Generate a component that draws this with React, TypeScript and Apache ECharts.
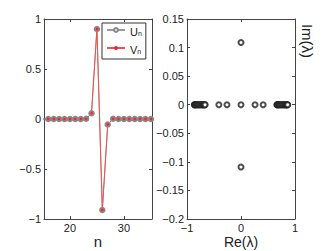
import React, { useEffect, useRef } from "react";
import * as echarts from "echarts";

const nValues = [10, 11, 12, 13, 14, 15, 16, 17, 18, 19, 20, 21, 22, 23, 24, 25, 26, 27, 28, 29, 30, 31, 32, 33, 34, 35, 36, 37, 38, 39, 40];
const uValues = [0, 0, 0, 0, 0, 0, 0, 0, 0, 0, 0, 0, 0, 0.002, 0.057, 0.9, -0.91, -0.055, 0.002, 0, 0, 0, 0, 0, 0, 0, 0, 0, 0, 0, 0];
const vValues = [0, 0, 0, 0, 0, 0, 0, 0, 0, 0, 0, 0, 0, 0.002, 0.057, 0.9, -0.91, -0.055, 0.002, 0, 0, 0, 0, 0, 0, 0, 0, 0, 0, 0, 0];
const leftXTicks = [20, 30];

const bandLeftRe = [-0.865, -0.86, -0.852, -0.843, -0.832, -0.82, -0.806, -0.791, -0.775, -0.759, -0.743, -0.727, -0.712, -0.698, -0.686, -0.676, -0.669, -0.665];
const bandRightRe = [0.665, 0.669, 0.676, 0.686, 0.698, 0.712, 0.727, 0.743, 0.759, 0.775, 0.791, 0.806, 0.82, 0.832, 0.843, 0.852, 0.86, 0.865];
const isolatedRe = [-0.41, -0.26, 0, 0.26, 0.41, 0, 0];
const isolatedIm = [0, 0, 0, 0, 0, 0.109, -0.109];

const FONT = "Liberation Sans, Arial, Helvetica, sans-serif";
const TXT = "#222";
const AX = "#444";

const fmt = (v: number) => String(Number(v.toFixed(4))).replace("-", "\u2212");

export default function App() {
  const ref = useRef<HTMLDivElement>(null);
  useEffect(() => {
    if (!ref.current) return;
    const chart = echarts.init(ref.current, undefined, { renderer: "svg" });

    const uData = nValues.map((n, i) => [n, uValues[i]]);
    const vData = nValues.map((n, i) => [n, vValues[i]]);
    const eigData: number[][] = [];
    bandLeftRe.forEach((r) => eigData.push([r, 0]));
    bandRightRe.forEach((r) => eigData.push([r, 0]));
    isolatedRe.forEach((r, i) => eigData.push([r, isolatedIm[i]]));

    const lab = { fontSize: 11, lineHeight: 11, color: TXT, fontFamily: FONT };
    const axLine = { show: true, onZero: false, lineStyle: { color: AX, width: 1 } };
    const tick = { show: true, inside: true, length: 3, lineStyle: { color: AX, width: 1 } };
    const nameStyle = { fontSize: 15, lineHeight: 14, fill: TXT, fontFamily: FONT, align: "center", verticalAlign: "middle" };

    chart.setOption({
      animation: false,
      textStyle: { fontFamily: FONT },
      grid: [
        { left: 44, top: 19, width: 108, height: 200, outerBoundsMode: "none", containLabel: false },
        { left: 187, top: 19, width: 108, height: 200, outerBoundsMode: "none", containLabel: false },
      ],
      legend: {
        left: 102,
        top: 23,
        orient: "vertical",
        data: ["U", "V"],
        selectedMode: false,
        borderColor: "#333",
        borderWidth: 1,
        borderRadius: 0,
        backgroundColor: "#fff",
        padding: [1, 4, 4, 4],
        itemWidth: 18,
        itemHeight: 5,
        itemGap: 5,
        formatter: (name: string) => `{m|${name}}{s|n}`,
        textStyle: {
          color: TXT,
          fontFamily: FONT,
          rich: {
            m: { fontSize: 11, color: TXT, fontFamily: FONT, lineHeight: 14, verticalAlign: "bottom" },
            s: { fontSize: 7, color: TXT, fontFamily: FONT, lineHeight: 12, verticalAlign: "bottom", padding: [6, 0, 0, 0] },
          },
        },
      },
      xAxis: [
        {
          type: "value", gridIndex: 0, min: 15.2, max: 35.2,
          axisLine: axLine, splitLine: { show: false },
          axisTick: { ...tick, customValues: leftXTicks },
          axisLabel: { ...lab, margin: 3, customValues: leftXTicks, formatter: fmt },
        },
        {
          type: "value", gridIndex: 0, position: "top", min: 15.2, max: 35.2,
          axisLine: axLine, splitLine: { show: false },
          axisTick: { ...tick, customValues: leftXTicks },
          axisLabel: { show: false, customValues: leftXTicks },
        },
        {
          type: "value", gridIndex: 1, min: -1, max: 1, interval: 1,
          axisLine: axLine, splitLine: { show: false }, axisTick: tick,
          axisLabel: { ...lab, margin: 3, formatter: fmt },
        },
        {
          type: "value", gridIndex: 1, position: "top", min: -1, max: 1, interval: 1,
          axisLine: axLine, splitLine: { show: false }, axisTick: tick,
          axisLabel: { show: false },
        },
      ],
      yAxis: [
        {
          type: "value", gridIndex: 0, min: -1, max: 1, interval: 0.5,
          axisLine: axLine, splitLine: { show: false }, axisTick: tick,
          axisLabel: { ...lab, margin: 3, formatter: fmt },
        },
        {
          type: "value", gridIndex: 0, position: "right", min: -1, max: 1, interval: 0.5,
          axisLine: axLine, splitLine: { show: false }, axisTick: tick,
          axisLabel: { show: false },
        },
        {
          type: "value", gridIndex: 1, min: -0.2, max: 0.15, interval: 0.05,
          axisLine: axLine, splitLine: { show: false }, axisTick: tick,
          axisLabel: { ...lab, margin: 3, formatter: fmt },
        },
        {
          type: "value", gridIndex: 1, position: "right", min: -0.2, max: 0.15, interval: 0.05,
          axisLine: axLine, splitLine: { show: false }, axisTick: tick,
          axisLabel: { show: false },
        },
      ],
      series: [
        {
          name: "U", type: "line", xAxisIndex: 0, yAxisIndex: 0, data: uData,
          symbol: "emptyCircle", symbolSize: 4.5,
          itemStyle: { color: "#888", borderWidth: 0.7 },
          lineStyle: { color: "#999", width: 1 },
          clip: true,
        },
        {
          name: "V", type: "line", xAxisIndex: 0, yAxisIndex: 0, data: vData,
          symbol: "circle", symbolSize: 3,
          itemStyle: { color: "#f02828" },
          lineStyle: { color: "#f05050", width: 1 },
          clip: true,
        },
        {
          name: "eig", type: "scatter", xAxisIndex: 2, yAxisIndex: 2, data: eigData,
          symbol: "emptyCircle", symbolSize: 5,
          itemStyle: { color: "#222", borderColor: "#222", borderWidth: 0.5 },
        },
      ],
      graphic: [
        { type: "text", x: 98, y: 241, style: { text: "n", ...nameStyle } },
        { type: "text", x: 241, y: 242, style: { text: "Re(λ)", ...nameStyle, fontSize: 14 } },
        { type: "text", x: 307, y: 41, rotation: -Math.PI / 2, style: { text: "Im(λ)", ...nameStyle } },
      ],
    });
    return () => chart.dispose();
  }, []);
  return <div ref={ref} style={{ position: "absolute", left: 0, top: 0, width: 327, height: 251 }} />;
}
